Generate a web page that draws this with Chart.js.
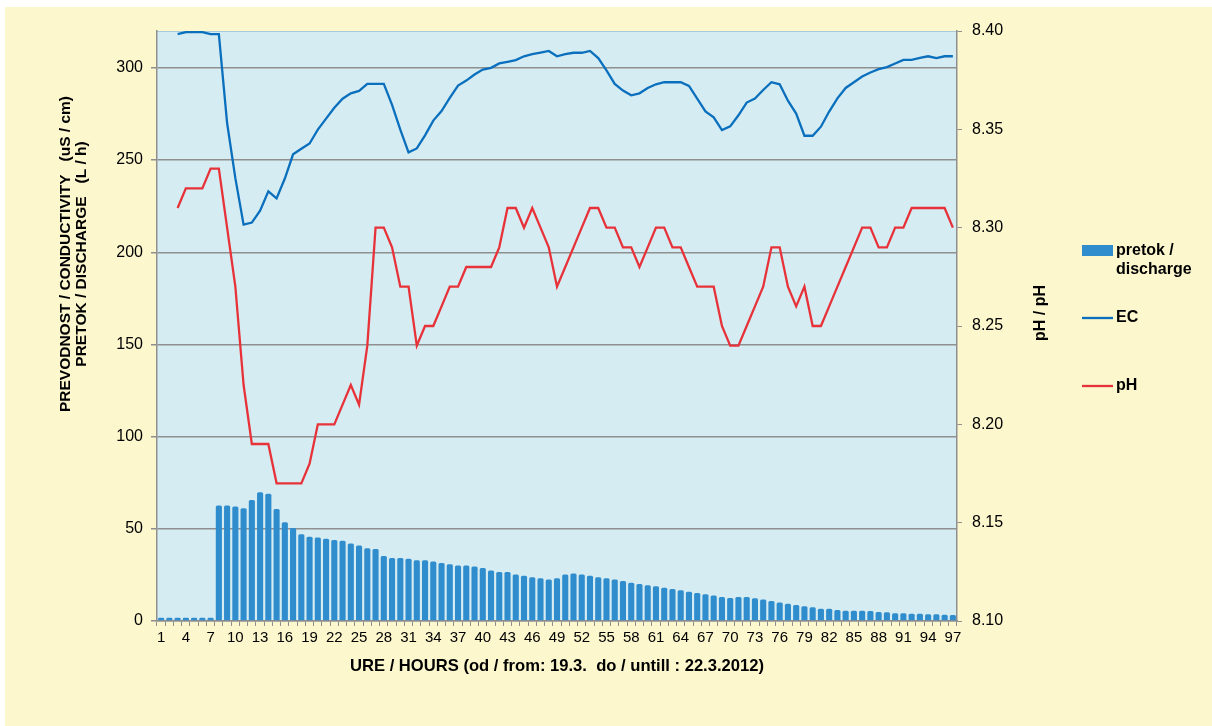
<!DOCTYPE html>
<html>
<head>
<meta charset="utf-8">
<script src="https://cdn.jsdelivr.net/npm/chart.js@4.4.1/dist/chart.umd.min.js"></script>
<style>
  html, body { margin: 0; padding: 0; background: #ffffff; }
  canvas { display: block; }
</style>
</head>
<body>
<canvas id="flowChart" width="1212" height="726"></canvas>
<script>
// hours on the x axis
const hours = [
  '1', '2', '3', '4', '5', '6', '7', '8', '9', '10',
  '11', '12', '13', '14', '15', '16', '17', '18', '19', '20',
  '21', '22', '23', '24', '25', '26', '27', '28', '29', '30',
  '31', '32', '33', '34', '35', '36', '37', '38', '39', '40',
  '41', '42', '43', '44', '45', '46', '47', '48', '49', '50',
  '51', '52', '53', '54', '55', '56', '57', '58', '59', '60',
  '61', '62', '63', '64', '65', '66', '67', '68', '69', '70',
  '71', '72', '73', '74', '75', '76', '77', '78', '79', '80',
  '81', '82', '83', '84', '85', '86', '87', '88', '89', '90',
  '91', '92', '93', '94', '95', '96', '97'
];

// pretok / discharge (L / h)
const discharge = [
  1.8, 1.8, 1.8, 1.8, 1.8, 1.8, 1.8, 62.7, 62.7, 62.1,
  61.2, 65.6, 69.8, 69.0, 60.7, 53.6, 50.4, 47.1, 45.7, 45.3,
  44.6, 44.0, 43.5, 42.0, 41.0, 39.5, 39.0, 35.3, 34.2, 34.2,
  33.7, 33.0, 33.0, 32.3, 31.5, 30.8, 30.1, 30.1, 29.5, 28.8,
  27.4, 26.6, 26.6, 25.2, 24.5, 23.7, 23.2, 22.5, 23.2, 25.2,
  25.7, 25.2, 24.5, 23.7, 23.2, 22.5, 21.7, 20.8, 20.1, 19.4,
  18.8, 18.1, 17.4, 16.7, 15.9, 15.2, 14.5, 13.8, 13.0, 12.5,
  13.0, 13.0, 12.3, 11.6, 10.9, 10.1, 9.4, 8.7, 8.0, 7.4,
  6.7, 6.7, 6.0, 5.6, 5.6, 5.6, 5.4, 4.9, 4.7, 4.2,
  4.2, 4.0, 4.0, 3.6, 3.6, 3.4, 3.3
];

// EC (uS / cm)
const conductivity = [
  null, null, 318.3, 319.4, 319.4, 319.4, 318.3, 318.3, 270.1, 240.2,
  215.0, 216.1, 222.6, 233.0, 229.2, 240.0, 253.1, 256.1, 259.0, 266.5,
  272.5, 278.4, 283.3, 286.2, 287.5, 291.3, 291.3, 291.3, 279.9, 266.5,
  254.2, 256.3, 263.4, 271.4, 276.6, 283.7, 290.4, 293.1, 296.4, 299.1,
  300.0, 302.4, 303.3, 304.2, 306.3, 307.4, 308.3, 309.2, 306.3, 307.4,
  308.2, 308.2, 309.2, 305.3, 298.6, 291.3, 287.7, 285.1, 286.2, 289.1,
  291.1, 292.2, 292.2, 292.2, 290.2, 283.3, 276.4, 273.2, 266.3, 268.3,
  274.3, 281.2, 283.3, 288.0, 292.2, 291.1, 282.2, 275.2, 263.2, 263.2,
  268.1, 276.3, 283.5, 289.1, 292.2, 295.3, 297.5, 299.3, 300.4, 302.4,
  304.3, 304.3, 305.4, 306.3, 305.3, 306.3, 306.3
];

// pH
const phValues = [
  null, null, 8.31, 8.32, 8.32, 8.32, 8.33, 8.33, 8.30, 8.27,
  8.22, 8.19, 8.19, 8.19, 8.17, 8.17, 8.17, 8.17, 8.18, 8.20,
  8.20, 8.20, 8.21, 8.22, 8.21, 8.24, 8.30, 8.30, 8.29, 8.27,
  8.27, 8.24, 8.25, 8.25, 8.26, 8.27, 8.27, 8.28, 8.28, 8.28,
  8.28, 8.29, 8.31, 8.31, 8.30, 8.31, 8.30, 8.29, 8.27, 8.28,
  8.29, 8.30, 8.31, 8.31, 8.30, 8.30, 8.29, 8.29, 8.28, 8.29,
  8.30, 8.30, 8.29, 8.29, 8.28, 8.27, 8.27, 8.27, 8.25, 8.24,
  8.24, 8.25, 8.26, 8.27, 8.29, 8.29, 8.27, 8.26, 8.27, 8.25,
  8.25, 8.26, 8.27, 8.28, 8.29, 8.30, 8.30, 8.29, 8.29, 8.30,
  8.30, 8.31, 8.31, 8.31, 8.31, 8.31, 8.30
];

const seriesNames = ['pretok / discharge', 'EC', 'pH'];

const FONT = "'Liberation Sans', Arial, sans-serif";
const CREAM = '#fcf7cd';
const PLOT_BG = '#d6ecf3';
const GRID = '#8f8f8f';
const BAR_BLUE = '#2f8dcd';
const EC_BLUE = '#0a6fbd';
const PH_RED = '#e8323a';

// backgrounds, side titles and the legend are painted by hand
const decorPlugin = {
  id: 'decor',
  beforeDraw(chart) {
    const ctx = chart.ctx;
    const a = chart.chartArea;
    ctx.save();
    ctx.fillStyle = CREAM;
    ctx.fillRect(5, 7, chart.width - 5, chart.height - 7);
    ctx.fillStyle = PLOT_BG;
    ctx.fillRect(a.left, a.top, a.right - a.left, a.bottom - a.top);
    ctx.strokeStyle = '#a9c9dd';
    ctx.lineWidth = 1;
    ctx.beginPath();
    ctx.moveTo(a.left, a.top + 0.5);
    ctx.lineTo(a.right, a.top + 0.5);
    ctx.stroke();
    ctx.restore();
  },
  afterDraw(chart) {
    const ctx = chart.ctx;
    const a = chart.chartArea;
    ctx.save();
    ctx.fillStyle = '#000';
    ctx.textAlign = 'center';
    ctx.textBaseline = 'middle';

    // left axis title (two lines)
    ctx.font = 'bold 15.5px ' + FONT;
    ctx.save();
    ctx.translate(a.left - 84, 254);
    ctx.rotate(-Math.PI / 2);
    ctx.fillText('PREVODNOST / CONDUCTIVITY   (uS / cm)', 0, -7);
    ctx.fillText('PRETOK / DISCHARGE   (L / h)', 0, 9);
    ctx.restore();

    // right axis title
    ctx.font = 'bold 16px ' + FONT;
    ctx.save();
    ctx.translate(a.right + 84, 313);
    ctx.rotate(-Math.PI / 2);
    ctx.fillText('pH / pH', 0, 0);
    ctx.restore();

    // legend
    const lx = a.right + 125;
    ctx.textAlign = 'left';
    ctx.font = 'bold 16px ' + FONT;
    ctx.fillStyle = BAR_BLUE;
    ctx.fillRect(lx, 245, 31, 11);
    ctx.fillStyle = '#000';
    ctx.fillText('pretok /', lx + 34, 251);
    ctx.fillText('discharge', lx + 34, 270);

    ctx.lineWidth = 2.3;
    ctx.strokeStyle = EC_BLUE;
    ctx.beginPath();
    ctx.moveTo(lx, 318);
    ctx.lineTo(lx + 31, 318);
    ctx.stroke();
    ctx.fillText(seriesNames[1], lx + 34, 318);

    ctx.strokeStyle = PH_RED;
    ctx.beginPath();
    ctx.moveTo(lx, 386);
    ctx.lineTo(lx + 31, 386);
    ctx.stroke();
    ctx.fillText(seriesNames[2], lx + 34, 386);
    ctx.restore();
  }
};

const ctx = document.getElementById('flowChart').getContext('2d');

new Chart(ctx, {
  type: 'bar',
  data: {
    labels: hours,
    datasets: [
      {
        type: 'line',
        label: seriesNames[2],
        data: phValues,
        yAxisID: 'yPh',
        borderColor: PH_RED,
        borderWidth: 2.3,
        pointRadius: 0,
        tension: 0,
        fill: false,
        order: 1
      },
      {
        type: 'line',
        label: seriesNames[1],
        data: conductivity,
        yAxisID: 'y',
        borderColor: EC_BLUE,
        borderWidth: 2.3,
        pointRadius: 0,
        tension: 0,
        fill: false,
        order: 2
      },
      {
        type: 'bar',
        label: seriesNames[0],
        data: discharge,
        yAxisID: 'y',
        backgroundColor: BAR_BLUE,
        borderRadius: { topLeft: 1.5, topRight: 1.5 },
        borderSkipped: 'bottom',
        barPercentage: 0.74,
        categoryPercentage: 1,
        order: 3
      }
    ]
  },
  plugins: [decorPlugin],
  options: {
    responsive: false,
    animation: false,
    events: [],
    layout: {
      padding: { left: 0, right: 155, top: 31, bottom: 46 }
    },
    plugins: {
      legend: { display: false },
      tooltip: { enabled: false }
    },
    scales: {
      x: {
        afterFit: function(scale) { scale.height = 59; },
        grid: {
          display: true,
          drawOnChartArea: false,
          tickLength: 5,
          color: GRID
        },
        border: { display: true, color: GRID, width: 1.5 },
        ticks: {
          autoSkip: false,
          maxRotation: 0,
          color: '#000',
          padding: 3,
          font: { family: FONT, size: 15 },
          callback: function(value, index) {
            return index % 3 === 0 ? hours[index] : '';
          }
        },
        title: {
          display: true,
          text: 'URE / HOURS (od / from: 19.3.  do / untill : 22.3.2012)',
          color: '#000',
          padding: { top: 0, bottom: 4 },
          font: { family: FONT, size: 16.6, weight: 'bold' }
        }
      },
      y: {
        position: 'left',
        min: 0,
        max: 320,
        afterFit: function(scale) { scale.width = 157; },
        grid: {
          color: GRID,
          lineWidth: 1.5,
          tickLength: 6
        },
        border: { display: true, color: GRID, width: 1.5 },
        ticks: {
          stepSize: 50,
          includeBounds: false,
          color: '#000',
          padding: 8,
          font: { family: FONT, size: 16 }
        }
      },
      yPh: {
        position: 'right',
        min: 8.10,
        max: 8.40,
        afterFit: function(scale) { scale.width = 100; },
        grid: {
          drawOnChartArea: false,
          color: GRID,
          tickLength: 5
        },
        border: { display: true, color: GRID, width: 1.5 },
        ticks: {
          stepSize: 0.05,
          color: '#000',
          padding: 10,
          font: { family: FONT, size: 16 },
          callback: function(value) {
            return Number(value).toFixed(2);
          }
        }
      }
    }
  }
});
</script>
</body>
</html>
